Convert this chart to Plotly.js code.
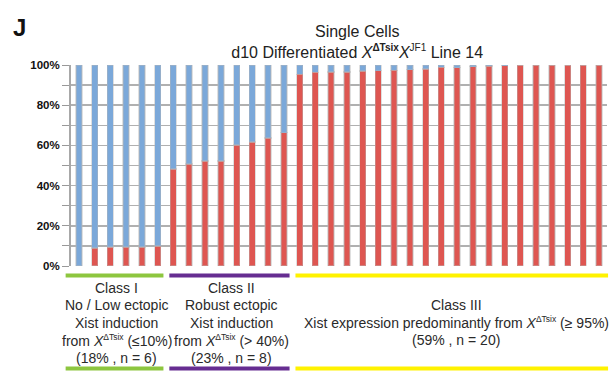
<!DOCTYPE html>
<html>
<head>
<meta charset="utf-8">
<script src="https://cdn.plot.ly/plotly-3.0.1.min.js"></script>
<style>
  html, body { margin: 0; padding: 0; background: #fff; }
  #chart { width: 614px; height: 373px; }
</style>
</head>
<body>
<div id="chart"></div>
<script>
// Per-cell share of Xist expressed from the X(ΔTsix) allele, sorted ascending
const cells = Array.from({length: 34}, (_, i) => i + 1);
const xistDeltaTsix = [
  0, 9, 9.5, 9.5, 9.5, 10,
  48.3, 50.7, 52.3, 52.3, 60.3, 61.6, 63.8, 66.3,
  95.3, 96.3, 96.5, 96.5, 97.0, 97.2, 97.3, 97.7, 98.0, 98.8,
  98.7, 99.2, 99.5, 99.7, 100, 100, 100, 100, 100, 100
];
const xistOther = xistDeltaTsix.map(v => 100 - v);

// Cell classes
const sup = '<sup><span style="font-size:8.5px">ΔTsix</span></sup>';
const classCounts = [6, 8, 20];
const classColors = ['#8dc63f', '#662d91', '#fff200'];
const classLabels = [
  ['Class I', 'No / Low ectopic', 'Xist induction', 'from <i>X</i>' + sup + ' (≤10%)', '(18% , n = 6)'],
  ['Class II', 'Robust ectopic', 'Xist induction', 'from <i>X</i>' + sup + ' (> 40%)', '(23% , n = 8)'],
  ['Class III', 'Xist expression predominantly from <i>X</i>' + sup + ' (≥ 95%)', '(59% , n = 20)']
];

const yTickVals = [0, 10, 20, 30, 40, 50, 60, 70, 80, 90, 100];
const yTickText = ['0%', '', '20%', '', '40%', '', '60%', '', '80%', '', '100%'];

const N = cells.length;
const FONT = 'Liberation Sans, Arial, sans-serif';
const barEdge = {color: 'rgba(185,185,185,0.45)', width: 1.5};

const traces = [
  {type: 'bar', x: cells, y: xistDeltaTsix, marker: {color: '#de5651', line: barEdge}, hoverinfo: 'skip'},
  {type: 'bar', x: cells, y: xistOther, marker: {color: '#7ba8d9', line: barEdge}, hoverinfo: 'skip'}
];

const shapes = [];
const annotations = [];
const labelShift = [0.004, 0.003, 0.008];
const linePitch = 17.5;
let start = 0;
classCounts.forEach((n, i) => {
  const end = start + n;
  const x0 = i === 0 ? -0.01 : start / N + 0.007;
  const x1 = end / N - 0.004 + (i === classCounts.length - 1 ? 0.006 : 0);
  [-0.047, -0.51].forEach(yy => {
    shapes.push({type: 'line', xref: 'paper', yref: 'paper', x0: x0, x1: x1, y0: yy, y1: yy,
      line: {color: classColors[i], width: 4}});
  });
  const lines = classLabels[i];
  const mid = (lines.length - 1) / 2;
  lines.forEach((t, k) => {
    annotations.push({xref: 'paper', yref: 'paper', x: (x0 + x1) / 2 + labelShift[i], y: -0.283,
      yshift: (mid - k) * linePitch, xanchor: 'center', yanchor: 'middle', showarrow: false, text: t,
      font: {family: FONT, size: 14, color: '#2a2a2a'}});
  });
  start = end;
});

annotations.push({xref: 'paper', yref: 'paper', x: -0.112, y: 1.185, xanchor: 'left', yanchor: 'middle',
  showarrow: false, text: '<b>J</b>', font: {family: FONT, size: 24, color: '#111'}});

const layout = {
  width: 614, height: 373,
  margin: {l: 71, r: 7, t: 65, b: 107},
  paper_bgcolor: '#fff', plot_bgcolor: '#fff',
  showlegend: false,
  barmode: 'stack',
  bargap: 0.62,
  title: {
    text: 'Single Cells<br>d10 Differentiated <i>X</i><sup><span style="font-size:10px"><b>ΔTsix</b></span></sup>' +
          '<i>X</i><sup><span style="font-size:10px">JF1</span></sup> Line 14',
    x: 0.534, xref: 'paper', xanchor: 'center',
    y: 0.9, yref: 'container', yanchor: 'middle',
    font: {family: FONT, size: 16, color: '#222'}
  },
  xaxis: {
    range: [0.5, N + 0.5], showticklabels: false, ticks: '', showgrid: false,
    zeroline: false, showline: false, fixedrange: true
  },
  yaxis: {
    range: [0, 100], tickvals: yTickVals, ticktext: yTickText,
    ticks: 'outside', ticklen: 7, tickcolor: '#999', tickwidth: 1,
    showgrid: true, gridcolor: '#b0b0b0', gridwidth: 1.5,
    zeroline: false, showline: true, linecolor: '#a8a8a8', linewidth: 2,
    tickfont: {family: FONT, size: 11.5, color: '#111', weight: 'bold'},
    fixedrange: true
  },
  shapes: shapes,
  annotations: annotations
};

Plotly.newPlot('chart', traces, layout, {displayModeBar: false, staticPlot: true});
</script>
</body>
</html>
